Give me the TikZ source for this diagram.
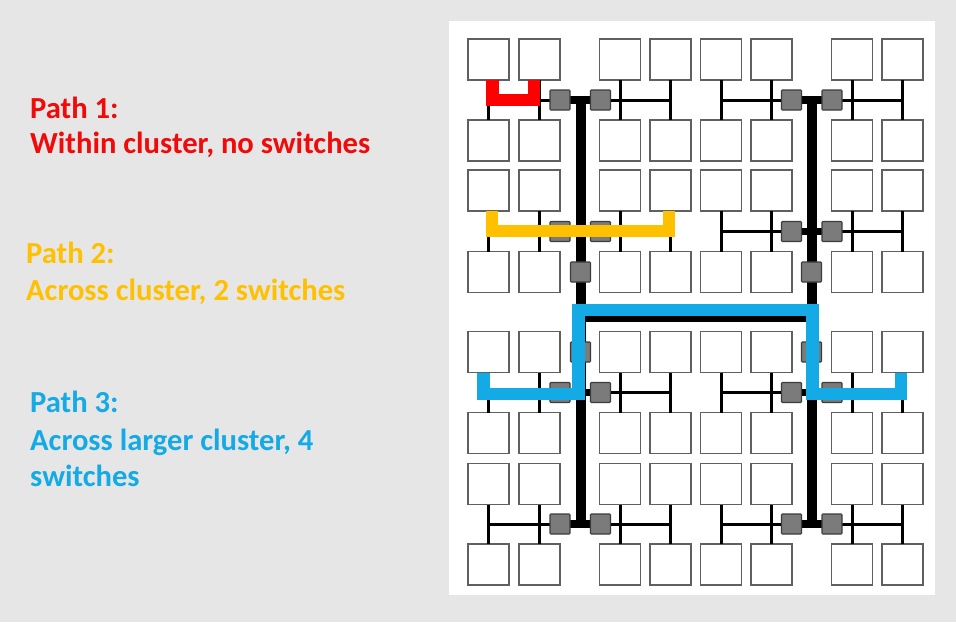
\documentclass[tikz,border=0pt]{standalone}
\usepackage{fontspec}
\setmainfont{Carlito}
\definecolor{bggray}{HTML}{E6E6E6}
\definecolor{boxgray}{HTML}{606060}
\definecolor{swfill}{HTML}{7B7B7B}
\definecolor{swborder}{HTML}{3C3C3C}
\definecolor{pred}{HTML}{FF0000}
\definecolor{tred}{HTML}{F00A0A}
\definecolor{pyel}{HTML}{FFC000}
\definecolor{pblu}{HTML}{14AAE6}
\begin{document}
\begin{tikzpicture}[x=1pt,y=-1pt,
  box/.style={draw=boxgray, line width=1.7pt, fill=white, minimum width=41pt, minimum height=41pt, inner sep=0pt, outer sep=0pt},
  sw/.style={draw=swborder, line width=1.1pt, fill=swfill, minimum width=20pt, minimum height=20pt, inner sep=0pt, outer sep=0pt, rounded corners=0.8pt},
  stub/.style={line width=3pt, black},
  bus/.style={line width=3pt, black, line cap=rect},
  trunk/.style={line width=7.5pt, black},
  spine/.style={line width=10pt, black},
  link/.style={line width=11pt, black},
  hl/.style={line width=12.5pt, line join=miter},
  lbl/.style={anchor=base west, inner sep=0pt, font=\bfseries\fontsize{30.6}{36}\selectfont}]
\useasboundingbox (0,0) rectangle (956,622);
\fill[bggray] (0,0) rectangle (956,622);
\fill[white] (449,21) rectangle (935,595);

% labels
\node[lbl, text=tred] (p1a) at (30,118.3) {Path 1:};
\node[lbl, text=tred] (p1b) at (30,153.3) {Within cluster, no switches};
\node[lbl, text=pyel] (p2a) at (26,263.3) {Path 2:};
\node[lbl, text=pyel] (p2b) at (26,300) {Across cluster, 2 switches};
\node[lbl, text=pblu] (p3a) at (30,412.7) {Path 3:};
\node[lbl, text=pblu] (p3b) at (30,450) {Across larger cluster, 4};
\node[lbl, text=pblu] (p3c) at (30,486.7) {switches};

% boxes
\foreach \r/\y in {1/59.5,2/140.5,3/190.5,4/272,5/352,6/433,7/484,8/564.5}
  \foreach \c/\x in {1/488.5,2/539.5,3/620,4/670.5,5/721,6/771.5,7/852,8/902.5}
    \node[box] (b\r\c) at (\x,\y) {};

% switch positions
\foreach \k/\y in {1/100,2/231.5,3/392.5,4/524}{
  \coordinate (sA\k) at (560,\y);
  \coordinate (sB\k) at (600.5,\y);
  \coordinate (sC\k) at (791.5,\y);
  \coordinate (sD\k) at (832,\y);
}
\coordinate (mL1) at (580.5,272);
\coordinate (mL2) at (580.5,352);
\coordinate (mR1) at (811.5,272);
\coordinate (mR2) at (811.5,352);
\coordinate (hL) at (580.5,316);
\coordinate (hR) at (811.5,316);

% stubs and buses
\foreach \t/\u/\k in {1/2/1,3/4/2,5/6/3,7/8/4}{
  \foreach \c in {1,...,8}
    \draw[stub] (b\t\c.south) -- (b\u\c.north);
  \draw[bus] (b\t1.south |- sA\k) -- ([xshift=-10pt]sA\k);
  \draw[bus] ([xshift=10pt]sB\k) -- (b\t4.south |- sB\k);
  \draw[bus] (b\t5.south |- sC\k) -- ([xshift=-10pt]sC\k);
  \draw[bus] ([xshift=10pt]sD\k) -- (b\t8.south |- sD\k);
  \draw[trunk] (sA\k) -- (sB\k);
  \draw[trunk] (sC\k) -- (sD\k);
}

% spines and link
\draw[spine] (mL1 |- sA1) -- (mL1) -- (mL2) -- (mL2 |- sA4);
\draw[spine] (mR1 |- sC1) -- (mR1) -- (mR2) -- (mR2 |- sC4);
\draw[link] (hL) -- (hR);

% switch nodes
\foreach \k in {1,...,4}{
  \node[sw] (nA\k) at (sA\k) {};
  \node[sw] (nB\k) at (sB\k) {};
  \node[sw] (nC\k) at (sC\k) {};
  \node[sw] (nD\k) at (sD\k) {};
}
\node[sw] (nmL1) at (mL1) {};
\node[sw] (nmL2) at (mL2) {};
\node[sw] (nmR1) at (mR1) {};
\node[sw] (nmR2) at (mR2) {};

% highlighted paths
\draw[hl, pred] ([xshift=4pt]b11.south) -- ++(0,20) -| ([xshift=-5.5pt]b12.south);
\draw[hl, pyel] ([xshift=3.5pt]b31.south) -- ++(0,20) -| ([xshift=-1.5pt]b34.south);
\coordinate (q1) at ([xshift=-5pt]b51.south);
\coordinate (qy) at ([yshift=-21.5pt]q1);
\coordinate (q2) at ([xshift=-1.5pt]b58.south);
\coordinate (ql) at ([xshift=-2pt,yshift=6pt]hL);
\coordinate (qr) at ([xshift=1pt,yshift=6pt]hR);
\draw[hl, pblu] (q1) -- (qy) -| (ql) -| (qr |- qy) -| (q2);
\end{tikzpicture}
\end{document}
